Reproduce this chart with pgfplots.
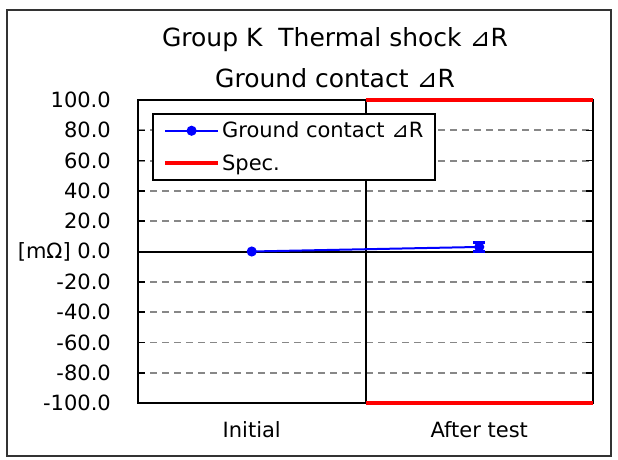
\documentclass[border=0pt]{standalone}
\usepackage{pgfplots}
\pgfplotsset{compat=1.18}
\usepackage{fontspec}
\setmainfont{DejaVu Sans}
\definecolor{gridgray}{RGB}{135,135,135}
\definecolor{specred}{RGB}{255,0,0}
\definecolor{serblue}{RGB}{0,0,255}
\begin{document}
\begin{tikzpicture}[x=1pt,y=1pt]
\useasboundingbox (0,0) rectangle (618,459);
\draw[line width=2pt, black!80] (7,3) rectangle (611,449);
\node[anchor=base, inner sep=0pt, font=\fontsize{25}{30}\selectfont] at (335,412) {Group K\ \ Thermal shock ⊿R};
\node[anchor=base, inner sep=0pt, font=\fontsize{25}{30}\selectfont] at (335,371) {Ground contact ⊿R};
\begin{axis}[
  at={(138pt,56pt)}, anchor=south west,
  scale only axis, width=455pt, height=303pt,
  xmin=0, xmax=2, ymin=-100, ymax=100,
  clip=false,
  font=\fontsize{21}{25}\selectfont,
  /pgf/number format/assume math mode=true,
  axis line style={black, line width=2pt},
  xtick={0.5,1.5}, xticklabels={Initial,After test},
  xtick style={draw=none},
  xticklabel style={anchor=base, inner sep=0pt, yshift=-34pt},
  ytick={-100,-80,...,100},
  yticklabels={-100.0,-80.0,-60.0,-40.0,-20.0,{[mΩ] 0.0},20.0,40.0,60.0,80.0,100.0},
  yticklabel style={anchor=east, inner sep=0pt, xshift=-27pt},
  tick align=inside, major tick length=7pt,
  ytick style={black, line width=1.6pt},
  ymajorgrids=true,
  major grid style={gridgray, line width=1.8pt, dash pattern=on 7pt off 5pt},
  extra x ticks={1}, extra x tick labels={},
  extra x tick style={grid=major, major grid style={black, line width=2pt, solid}, tick style={draw=none}},
  extra y ticks={0}, extra y tick labels={},
  extra y tick style={grid=major, major grid style={black, line width=2pt, solid}, tick style={draw=none}},
  legend style={at={(0.031,0.957)}, anchor=north west, draw=black, line width=2pt, fill=white,
    font=\fontsize{21}{25}\selectfont, inner xsep=10pt, inner ysep=6pt,
    nodes={inner sep=2pt}, row sep=11pt},
  legend cell align=left,
  legend image code/.code={\draw[mark repeat=2,mark phase=2,#1] plot coordinates {(0pt,0pt) (26.5pt,0pt) (53pt,0pt)};},
]
\addplot[serblue, line width=2pt, mark=*, mark size=4pt, mark options={solid, fill=serblue}] coordinates {(0.5,0) (1.5,3)};
\addlegendentry{Ground contact ⊿R}
\addplot[specred, line width=4pt] coordinates {(1,100) (2,100)};
\addlegendentry{Spec.}
\addplot[specred, line width=4pt, forget plot] coordinates {(1,-100) (2,-100)};
\addplot[forget plot, serblue, only marks, mark=*, mark size=3pt,
  error bars/.cd, y dir=both, y explicit,
  error bar style={serblue, line width=3pt},
  error mark options={rotate=90, serblue, mark size=6pt, line width=3pt}]
  coordinates {(1.5,3) +- (0,3)};
\end{axis}
\end{tikzpicture}
\end{document}
